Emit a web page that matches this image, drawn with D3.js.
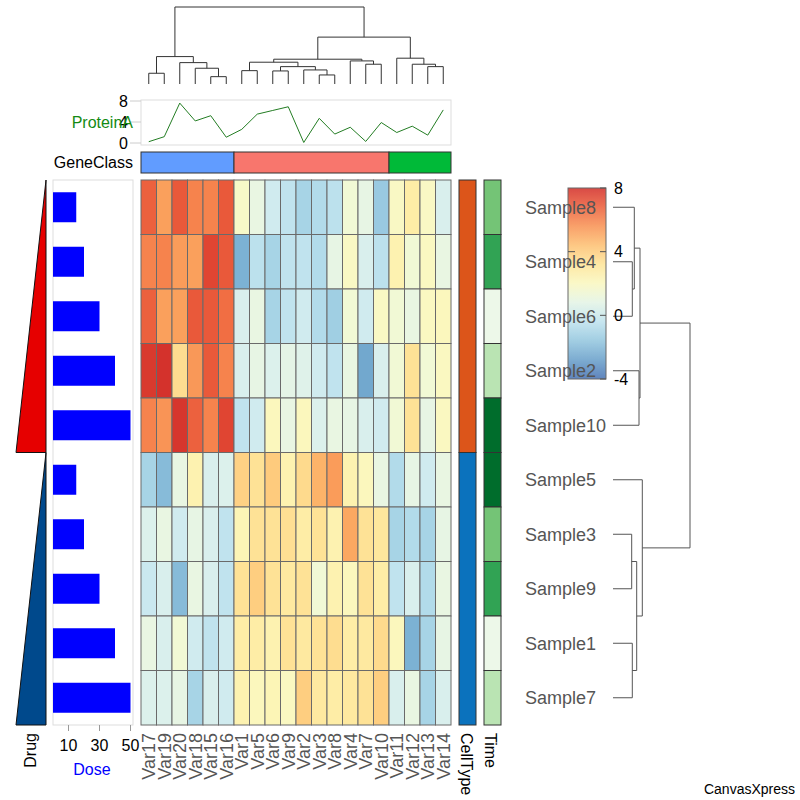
<!DOCTYPE html>
<html><head><meta charset="utf-8">
<script src="https://cdn.jsdelivr.net/npm/d3@7"></script>
<style>body{margin:0;background:#fff}svg{display:block;font-family:Arial,"Liberation Sans",sans-serif}</style>
</head><body><svg id="chart" width="800" height="800"></svg>
<script>
// ---------------- data ----------------
const variables = ["Var17","Var19","Var20","Var18","Var15","Var16","Var1","Var5","Var6","Var9","Var2","Var3","Var8","Var4","Var7","Var10","Var11","Var12","Var13","Var14"];
const samples = ["Sample8","Sample4","Sample6","Sample2","Sample10","Sample5","Sample3","Sample9","Sample1","Sample7"];
const values = [
  [6.8,5.3,7.0,6.0,6.0,7.0, 1.8,1.0,0.1,-0.4,-1.1,-0.8,-0.5,1.4,0.9,-1.5, 1.9,2.8,1.9,0.4],
  [6.0,6.0,5.4,5.3,7.5,7.0, -2.3,-0.5,-1.1,-0.4,-0.4,-0.8,0.9,1.9,0.4,-0.5, 2.5,1.4,2.0,1.0],
  [6.8,5.3,5.3,7.0,7.0,6.5, 0.4,1.0,-1.1,-0.4,0.1,-0.8,-1.3,1.4,0.1,1.9, 1.4,1.0,2.0,2.1],
  [7.8,8.0,3.5,5.5,7.0,6.0, 0.4,0.9,0.5,0.8,0.6,0.1,-0.4,1.0,-2.6,0.4, 1.4,3.3,1.4,2.0],
  [6.0,5.6,7.9,6.8,6.0,7.5, -0.4,0.1,2.1,1.0,2.1,0.5,1.0,0.9,0.4,0.1, 1.4,3.3,0.9,2.0],
  [-1.1,-2.0,1.0,2.5,0.4,0.5, 3.9,3.3,4.1,2.5,3.6,4.8,5.4,2.5,2.1,1.0, -0.8,0.9,0.1,1.0],
  [0.5,1.0,0.1,0.9,0.4,-0.4, 2.3,3.3,3.3,3.4,2.8,3.3,2.5,5.1,3.3,3.1, -1.1,-0.8,-1.1,0.9],
  [-0.1,0.4,-2.0,1.0,0.4,-0.4, 3.3,4.0,3.3,3.0,3.3,1.4,2.5,2.1,3.3,2.8, -0.4,0.4,-0.8,1.0],
  [1.0,0.4,1.4,0.1,-0.4,0.1, 2.8,2.8,2.5,3.3,3.0,3.3,3.5,2.8,3.0,3.6, 2.1,-2.3,-1.1,0.9],
  [0.5,0.5,0.9,-1.1,0.4,0.1, 2.5,2.1,2.3,2.0,4.0,3.0,2.8,3.0,3.3,4.0, 0.4,1.0,-1.1,0.4]
];
const proteinA = [0.25,1.2,7.6,4.2,5.2,1.1,2.6,5.5,6.2,6.9,0.1,4.7,1.7,3.0,0.3,3.9,2.0,3.2,1.5,6.3];
const geneClass = ["A","A","A","A","A","A","B","B","B","B","B","B","B","B","B","B","C","C","C","C"];
const cellType = ["Lymphocyte","Lymphocyte","Lymphocyte","Lymphocyte","Lymphocyte","Monocyte","Monocyte","Monocyte","Monocyte","Monocyte"];
const timeLevel = [3,4,1,2,5,5,3,4,1,2];
const dose = [15,20,30,40,50,15,20,30,40,50];
const drug = ["DrugA","DrugA","DrugA","DrugA","DrugA","DrugB","DrugB","DrugB","DrugB","DrugB"];
const doseTicks = [10,30,50];
const proteinTicks = [0,4,8];
const legendTicks = [-4,0,4,8];
// dendrograms: [height, left, right]
const colTree = [7.67,
  [2.73, [1.07,"Var17","Var19"], [2.13,"Var20",[1.57,"Var18",[0.73,"Var15","Var16"]]]],
  [4.67,
    [2.47,
      [2.17, [1.33,"Var1","Var5"], [1.73,[1.3,"Var6","Var9"],[1.4,"Var2",[0.9,"Var3","Var8"]]]],
      [2.3, "Var4", [1.97,"Var7","Var10"]]],
    [2.57, "Var11", [1.97,"Var12",[1.73,"Var13","Var14"]]]]];
const rowTree = [7.7,
  [2.7, [2.13,"Sample8",[1.93,"Sample4","Sample6"]], [2.6,"Sample2","Sample10"]],
  [2.93, "Sample5", [2.37,[1.87,"Sample3","Sample9"],[1.93,"Sample1","Sample7"]]]];

// ---------------- drawing ----------------
const svg = d3.select("#chart");
const x = d3.scaleBand().domain(variables).range([141,451]);
const y = d3.scaleBand().domain(samples).range([180,725]);
const color = d3.scaleSequential(t => d3.interpolateRdYlBu(0.9 - 0.8 * Math.max(0, Math.min(1, t)))).domain([-4,8]);
const gray = "#555";

// heatmap
const cells = [];
samples.forEach((s,i) => variables.forEach((v,j) => cells.push({s, v, val: values[i][j]})));
svg.append("g").selectAll("rect").data(cells).join("rect")
  .attr("x", d => x(d.v)).attr("y", d => y(d.s))
  .attr("width", x.bandwidth()).attr("height", y.bandwidth())
  .attr("fill", d => color(d.val)).attr("stroke", "#6a6a6a").attr("stroke-width", 1);

// column dendrogram
const colH = d3.scaleLinear().domain([0, colTree[0]]).range([84, 7]);
const gCol = svg.append("g").attr("stroke", "#333").attr("fill", "none").attr("stroke-width", 1);
function drawCol(node) {
  if (typeof node === "string") return {p: x(node) + x.bandwidth()/2, h: 0};
  const a = drawCol(node[1]), b = drawCol(node[2]);
  const yy = colH(node[0]);
  gCol.append("path").attr("d", `M${a.p},${colH(a.h)}V${yy}H${b.p}V${colH(b.h)}`);
  return {p: (a.p + b.p)/2, h: node[0]};
}
drawCol(colTree);

// row dendrogram
const rowH = d3.scaleLinear().domain([0, rowTree[0]]).range([613, 690]);
const gRowD = svg.append("g").attr("stroke", gray).attr("fill", "none").attr("stroke-width", 1);

// legend colour bar (drawn before labels)
const ly = d3.scaleLinear().domain([-4,8]).range([379,188]);
const defs = svg.append("defs");
const grad = defs.append("linearGradient").attr("id","lg").attr("x1",0).attr("x2",0).attr("y1",1).attr("y2",0);
d3.range(0,1.0001,0.1).forEach(t => grad.append("stop").attr("offset", t).attr("stop-color", color(-4 + 12*t)));
svg.append("rect").attr("x",568).attr("y",ly(8)).attr("width",38).attr("height",ly(-4)-ly(8))
  .attr("fill","url(#lg)").attr("stroke","#555").attr("stroke-width",1).attr("opacity",0.88);

function drawRow(node) {
  if (typeof node === "string") return {p: y(node) + y.bandwidth()/2, h: 0};
  const a = drawRow(node[1]), b = drawRow(node[2]);
  const xx = rowH(node[0]);
  gRowD.append("path").attr("d", `M${rowH(a.h)},${a.p}H${xx}V${b.p}H${rowH(b.h)}`);
  return {p: (a.p + b.p)/2, h: node[0]};
}
drawRow(rowTree);

// sample labels
svg.append("g").selectAll("text").data(samples).join("text")
  .attr("x", 525).attr("y", d => y(d) + y.bandwidth()/2).attr("dy","0.35em")
  .attr("font-size", 18).attr("fill", gray).text(d => d);

// legend ticks and labels
legendTicks.forEach(t => {
  svg.append("line").attr("x1",600).attr("x2",606).attr("y1",ly(t)).attr("y2",ly(t)).attr("stroke","#555");
  svg.append("text").attr("x",614).attr("y",ly(t)).attr("dy","0.35em").attr("font-size",16).attr("fill","#000").text(t);
});
svg.append("line").attr("x1",568).attr("x2",575).attr("y1",ly(4)).attr("y2",ly(4)).attr("stroke","#555");

// variable labels
svg.append("g").selectAll("text").data(variables).join("text")
  .attr("transform", d => `translate(${x(d) + x.bandwidth()/2},733) rotate(-90)`)
  .attr("text-anchor","end").attr("dy","0.35em").attr("font-size",18).attr("fill",gray).text(d => d);

// ProteinA line panel
const py = d3.scaleLinear().domain([0,8]).range([143,101]);
svg.append("rect").attr("x",141).attr("y",100).attr("width",310).attr("height",45)
  .attr("fill","none").attr("stroke","#ddd");
proteinTicks.forEach(t => {
  svg.append("line").attr("x1",130).attr("x2",141).attr("y1",py(t)).attr("y2",py(t)).attr("stroke","#ccc");
  svg.append("text").attr("x",128).attr("y",py(t)).attr("dy","0.35em").attr("text-anchor","end")
    .attr("font-size",16).attr("fill","#000").text(t);
});
svg.append("path").datum(proteinA)
  .attr("d", d3.line().x((d,i) => x(variables[i]) + x.bandwidth()/2).y(d => py(d)))
  .attr("fill","none").attr("stroke","#237d23").attr("stroke-width",1);
svg.append("text").attr("x",133).attr("y",122).attr("dy","0.35em").attr("text-anchor","end")
  .attr("font-size",16).attr("fill","#138a13").text("ProteinA");

// GeneClass bar
const gcColor = d3.scaleOrdinal().domain(["A","B","C"]).range(["#619CFF","#F8766D","#00BA38"]);
const gcRuns = [];
geneClass.forEach((g,i) => {
  if (gcRuns.length && gcRuns[gcRuns.length-1].g === g) gcRuns[gcRuns.length-1].end = i;
  else gcRuns.push({g, start: i, end: i});
});
svg.append("g").selectAll("rect").data(gcRuns).join("rect")
  .attr("x", d => x(variables[d.start])).attr("y",152)
  .attr("width", d => x(variables[d.end]) + x.bandwidth() - x(variables[d.start])).attr("height",21)
  .attr("fill", d => gcColor(d.g)).attr("stroke","#333");
svg.append("text").attr("x",133).attr("y",162).attr("dy","0.35em").attr("text-anchor","end")
  .attr("font-size",16).attr("fill","#000").text("GeneClass");

// CellType bar
const ctColor = d3.scaleOrdinal().domain(["Lymphocyte","Monocyte"]).range(["#dc551a","#0b72bd"]);
const ctRuns = [];
cellType.forEach((c,i) => {
  if (ctRuns.length && ctRuns[ctRuns.length-1].c === c) ctRuns[ctRuns.length-1].end = i;
  else ctRuns.push({c, start: i, end: i});
});
svg.append("g").selectAll("rect").data(ctRuns).join("rect")
  .attr("x",459).attr("y", d => y(samples[d.start])).attr("width",17)
  .attr("height", d => y(samples[d.end]) + y.bandwidth() - y(samples[d.start]))
  .attr("fill", d => ctColor(d.c)).attr("stroke","#333");

// Time bar
const timeColor = d3.scaleOrdinal().domain([1,2,3,4,5]).range(["#edf8e9","#bae4b3","#74c476","#31a354","#006d2c"]);
svg.append("g").selectAll("rect").data(samples).join("rect")
  .attr("x",484).attr("y", d => y(d)).attr("width",17).attr("height", y.bandwidth())
  .attr("fill", (d,i) => timeColor(timeLevel[i])).attr("stroke","#333");

svg.append("text").attr("transform","translate(467,733) rotate(90)").attr("dy","0.35em")
  .attr("font-size",16).attr("fill","#000").text("CellType");
svg.append("text").attr("transform","translate(491,733) rotate(90)").attr("dy","0.35em")
  .attr("font-size",16).attr("fill","#000").text("Time");

// Dose bars
const dx = d3.scaleLinear().domain([0,50]).range([53,130.5]);
svg.append("rect").attr("x",53).attr("y",180).attr("width",80).attr("height",545)
  .attr("fill","none").attr("stroke","#ddd");
svg.append("g").selectAll("rect").data(samples).join("rect")
  .attr("x", dx(0)).attr("y", d => y(d) + y.bandwidth()/2 - 15).attr("height",30)
  .attr("width", (d,i) => dx(dose[i]) - dx(0)).attr("fill","#0000ff");
doseTicks.forEach(t => {
  svg.append("line").attr("x1",dx(t)).attr("x2",dx(t)).attr("y1",725).attr("y2",731).attr("stroke","#999");
  svg.append("text").attr("x",dx(t)).attr("y",745).attr("dy","0.35em").attr("text-anchor","middle")
    .attr("font-size",16).attr("fill","#000").text(t);
});
svg.append("text").attr("x",92).attr("y",769).attr("dy","0.35em").attr("text-anchor","middle")
  .attr("font-size",16).attr("fill","#0000ff").text("Dose");

// Drug wedges
const drugColor = d3.scaleOrdinal().domain(["DrugA","DrugB"]).range(["#e60000","#00498c"]);
const drRuns = [];
drug.forEach((c,i) => {
  if (drRuns.length && drRuns[drRuns.length-1].c === c) drRuns[drRuns.length-1].end = i;
  else drRuns.push({c, start: i, end: i});
});
svg.append("g").selectAll("path").data(drRuns).join("path")
  .attr("d", d => {
    const y0 = y(samples[d.start]), y1 = y(samples[d.end]) + y.bandwidth();
    return `M46,${y0}L46,${y1}L16,${y1}Z`;
  })
  .attr("fill", d => drugColor(d.c)).attr("stroke","#111").attr("stroke-width",1);
svg.append("text").attr("transform","translate(30,733) rotate(-90)").attr("dy","0.35em")
  .attr("text-anchor","end").attr("font-size",16).attr("fill","#000").text("Drug");

svg.append("text").attr("x",795).attr("y",789).attr("dy","0.35em").attr("text-anchor","end")
  .attr("font-size",14).attr("fill","#000").text("CanvasXpress");
</script></body></html>
